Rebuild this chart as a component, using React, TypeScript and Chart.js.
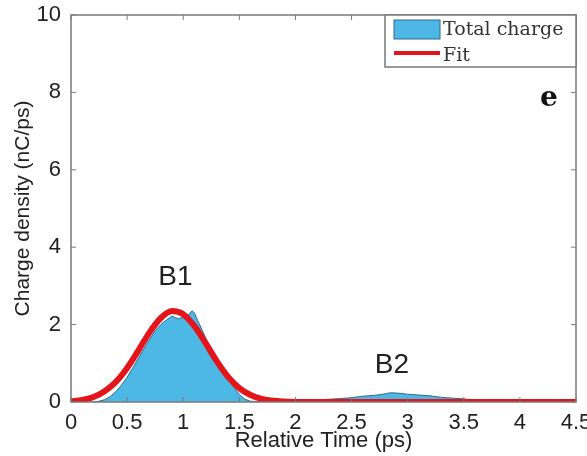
import React, { useEffect, useRef } from "react";
import { Chart, registerables } from "chart.js";

Chart.register(...registerables);

const chargeX = [0, 0.2, 0.25, 0.3, 0.35, 0.4, 0.45, 0.5, 0.55, 0.6, 0.65, 0.7, 0.75, 0.8, 0.85, 0.9, 0.93, 0.96, 1.0, 1.05, 1.08, 1.1, 1.13, 1.17, 1.2, 1.25, 1.3, 1.35, 1.4, 1.45, 1.5, 1.55, 1.6, 1.7, 1.8, 1.9, 2.0, 2.1, 2.2, 2.3, 2.4, 2.5, 2.6, 2.7, 2.75, 2.8, 2.85, 2.9, 2.95, 3.0, 3.1, 3.2, 3.3, 3.4, 3.5, 3.6, 3.7, 3.8, 4.5];
const chargeY = [0, 0, 0.02, 0.06, 0.14, 0.27, 0.44, 0.64, 0.88, 1.13, 1.38, 1.62, 1.84, 2.0, 2.12, 2.22, 2.18, 2.15, 2.2, 2.26, 2.36, 2.3, 2.1, 1.85, 1.65, 1.38, 1.1, 0.85, 0.6, 0.38, 0.2, 0.07, 0.02, 0.01, 0.01, 0.02, 0.03, 0.04, 0.06, 0.07, 0.09, 0.11, 0.15, 0.17, 0.19, 0.21, 0.24, 0.23, 0.22, 0.2, 0.18, 0.16, 0.12, 0.1, 0.08, 0.05, 0.02, 0, 0];

const fitX = [0, 0.1, 0.2, 0.3, 0.4, 0.5, 0.6, 0.7, 0.8, 0.9, 1.0, 1.1, 1.2, 1.3, 1.4, 1.5, 1.6, 1.7, 1.8, 1.9, 2.0, 4.5];
const fitY = [0.02, 0.05, 0.13, 0.28, 0.52, 0.88, 1.33, 1.8, 2.17, 2.35, 2.27, 1.96, 1.52, 1.05, 0.65, 0.36, 0.18, 0.08, 0.03, 0.01, 0, 0];

const xTicks = [0, 0.5, 1, 1.5, 2, 2.5, 3, 3.5, 4, 4.5];
const yTicks = [0, 2, 4, 6, 8, 10];

const seriesLabels = ["Total charge", "Fit"];
const peakLabels = [
  { text: "B1", x: 0.93, y: 3.02 },
  { text: "B2", x: 2.86, y: 0.75 },
];
const panelLabel = { text: "e", x: 4.18, y: 7.66 };

const BLUE = "#4db7e5";
const BLUE_EDGE = "#2f6a8a";
const RED = "#e3151b";
const AXIS = "#7a7a7a";
const SANS = "'Liberation Sans', Arial, sans-serif";

export default function App() {
  const ref = useRef<HTMLCanvasElement | null>(null);

  useEffect(() => {
    document.body.style.margin = "0";
    const canvas = ref.current;
    if (!canvas) return;

    const overlay = {
      id: "overlay",
      afterDatasetsDraw(chart: any) {
        const { ctx, chartArea } = chart;
        const xs = chart.scales.x;
        const ys = chart.scales.y;
        ctx.save();
        ctx.strokeStyle = AXIS;
        ctx.lineWidth = 1.5;
        ctx.strokeRect(chartArea.left, chartArea.top, chartArea.right - chartArea.left, chartArea.bottom - chartArea.top);
        ctx.lineWidth = 1;
        const tl = 5;
        xTicks.forEach((v) => {
          const px = xs.getPixelForValue(v);
          ctx.beginPath();
          ctx.moveTo(px, chartArea.bottom);
          ctx.lineTo(px, chartArea.bottom - tl);
          ctx.moveTo(px, chartArea.top);
          ctx.lineTo(px, chartArea.top + tl);
          ctx.stroke();
        });
        yTicks.forEach((v) => {
          const py = ys.getPixelForValue(v);
          ctx.beginPath();
          ctx.moveTo(chartArea.left, py);
          ctx.lineTo(chartArea.left + tl, py);
          ctx.moveTo(chartArea.right, py);
          ctx.lineTo(chartArea.right - tl, py);
          ctx.stroke();
        });
        ctx.fillStyle = "#222";
        ctx.font = "28px " + SANS;
        ctx.textAlign = "center";
        ctx.textBaseline = "alphabetic";
        peakLabels.forEach((p) => {
          ctx.fillText(p.text, xs.getPixelForValue(p.x), ys.getPixelForValue(p.y));
        });
        ctx.font = "bold 28px 'DejaVu Serif', serif";
        ctx.textAlign = "left";
        ctx.fillStyle = "#111";
        ctx.fillText(panelLabel.text, xs.getPixelForValue(panelLabel.x), ys.getPixelForValue(panelLabel.y));
        // legend
        const lx = 385;
        const ly = chartArea.top;
        const lw = chartArea.right - lx;
        const lh = 52;
        ctx.fillStyle = "#fff";
        ctx.fillRect(lx, ly, lw, lh);
        ctx.strokeStyle = AXIS;
        ctx.lineWidth = 1.5;
        ctx.strokeRect(lx, ly, lw, lh);
        ctx.fillStyle = BLUE;
        ctx.fillRect(lx + 9, ly + 5, 46, 19);
        ctx.strokeStyle = BLUE_EDGE;
        ctx.lineWidth = 1;
        ctx.strokeRect(lx + 9, ly + 5, 46, 19);
        ctx.strokeStyle = RED;
        ctx.lineWidth = 4;
        ctx.beginPath();
        ctx.moveTo(lx + 9, ly + 38);
        ctx.lineTo(lx + 55, ly + 38);
        ctx.stroke();
        ctx.fillStyle = "#333";
        ctx.font = "19px 'DejaVu Serif', serif";
        ctx.textAlign = "left";
        ctx.fillText(seriesLabels[0], lx + 58, ly + 20);
        ctx.fillText(seriesLabels[1], lx + 58, ly + 46);
        ctx.restore();
      },
    };

    const chart = new Chart(canvas, {
      type: "line",
      data: {
        datasets: [
          {
            label: seriesLabels[0],
            data: chargeX.map((x, i) => ({ x, y: chargeY[i] })),
            fill: "origin",
            backgroundColor: BLUE,
            borderColor: BLUE_EDGE,
            borderWidth: 1,
            pointRadius: 0,
            tension: 0,
            order: 1,
          },
          {
            label: seriesLabels[1],
            data: fitX.map((x, i) => ({ x, y: fitY[i] })),
            fill: false,
            borderColor: RED,
            borderWidth: 6,
            pointRadius: 0,
            cubicInterpolationMode: "monotone",
            order: 0,
          },
        ],
      },
      options: {
        responsive: false,
        animation: false,
        devicePixelRatio: 1,
        layout: { padding: { top: 15, right: 11, left: 0, bottom: 0 } },
        plugins: { legend: { display: false }, tooltip: { enabled: false } },
        scales: {
          x: {
            type: "linear",
            min: 0,
            max: 4.5,
            afterBuildTicks: (s: any) => {
              s.ticks = xTicks.map((v) => ({ value: v }));
            },
            afterFit: (s: any) => {
              s.height = 54;
              s.paddingLeft = 0;
              s.paddingRight = 0;
            },
            grid: { display: false },
            border: { display: false },
            ticks: {
              color: "#222",
              font: { family: SANS, size: 22 },
              padding: 0,
              maxRotation: 0,
              autoSkip: false,
              callback: (v: any) => String(v),
            },
            title: {
              display: true,
              text: "Relative Time (ps)",
              color: "#222",
              font: { family: SANS, size: 22 },
              padding: { top: 0, bottom: 2 },
            },
          },
          y: {
            type: "linear",
            min: 0,
            max: 10,
            afterBuildTicks: (s: any) => {
              s.ticks = yTicks.map((v) => ({ value: v }));
            },
            afterFit: (s: any) => {
              s.width = 71;
              s.paddingTop = 0;
              s.paddingBottom = 0;
            },
            grid: { display: false },
            border: { display: false },
            ticks: {
              color: "#222",
              font: { family: SANS, size: 22 },
              padding: 2,
              autoSkip: false,
              callback: (v: any) => String(v),
            },
            title: {
              display: true,
              text: "Charge density (nC/ps)",
              color: "#222",
              font: { family: SANS, size: 21 },
              padding: { top: 11, bottom: 0 },
            },
          },
        },
      },
      plugins: [overlay],
    } as any);

    return () => chart.destroy();
  }, []);

  return <canvas ref={ref} width={587} height={456} style={{ display: "block" }} />;
}
